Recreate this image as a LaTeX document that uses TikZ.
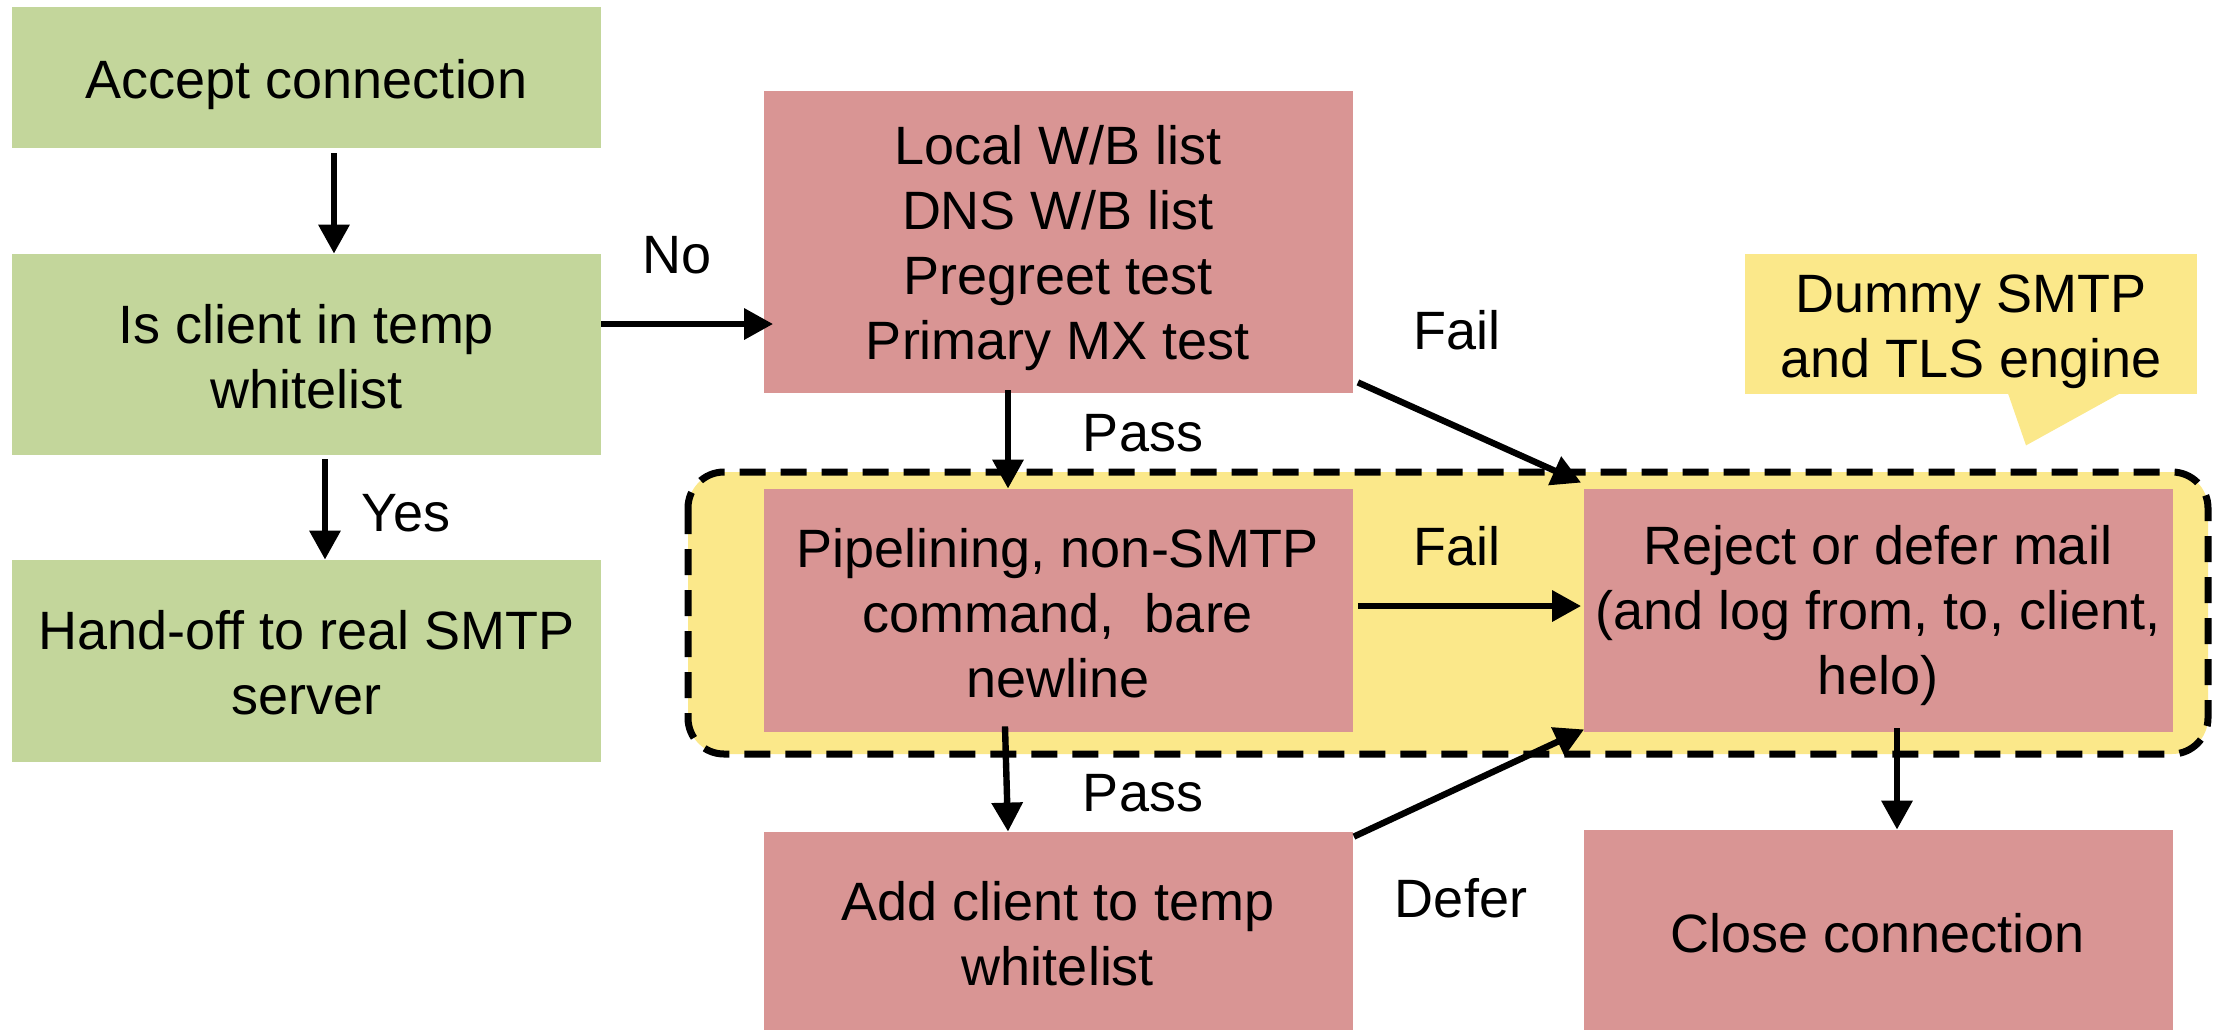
\documentclass[tikz,border=0pt]{standalone}
\usepackage{fontspec}
\setmainfont{Liberation Sans}
\usetikzlibrary{arrows.meta}
\definecolor{boxgreen}{HTML}{C3D69B}
\definecolor{boxred}{HTML}{D99594}
\definecolor{noteyellow}{HTML}{FBE88A}
\begin{document}
\begin{tikzpicture}[x=0.5pt,y=-0.5pt,
  txt/.style={font=\fontsize{27}{32.5}\selectfont, align=center},
  box/.style={rectangle, inner sep=0pt, minimum width=294.5pt},
  gbox/.style={box, fill=boxgreen},
  rbox/.style={box, fill=boxred},
  lbl/.style={txt, inner sep=0pt},
  arr/.style={line width=3.2pt, -{Triangle[width=15pt,length=14.5pt]}},
  grp/.style={fill=noteyellow, draw=black, line width=3.5pt, dash pattern=on 13pt off 7.5pt, rounded corners=18pt}
]
\useasboundingbox (0,0) rectangle (2218,1030);

% dashed group
\draw[grp] (688,472) rectangle (2208,754);

% callout
\node[fill=noteyellow, inner sep=0pt, minimum width=226pt, minimum height=70pt] (note) at (1971,324) {};
\fill[noteyellow] ([xshift=-0.5pt]note.south) ++(38,-1) -- ++(18,52) -- ++(94,-52) -- cycle;
\node[lbl] (noteT) at ([yshift=-4pt]note.center) {Dummy SMTP\\and TLS engine};

% green boxes
\node[gbox, minimum height=70.5pt] (accept) at (306.5,77.5) {};
\node[gbox, minimum height=100.5pt] (isclient) at (306.5,354.5) {};
\node[gbox, minimum height=101pt] (handoff) at (306.5,661) {};
\node[lbl] (acceptT) at ([yshift=-3.5pt]accept.center) {Accept connection};
\node[lbl] (isclientT) at ([yshift=-1pt]isclient.center) {Is client in temp\\whitelist};
\node[lbl] (handoffT) at ([yshift=-1pt]handoff.center) {Hand-off to real SMTP\\server};

% red boxes
\node[rbox, minimum height=151pt] (checks) at (1058,242) {};
\node[rbox, minimum height=121.5pt] (pipe) at (1058,610.5) {};
\node[rbox, minimum height=121.5pt] (reject) at (1878,610.5) {};
\node[rbox, minimum height=99pt] (addcl) at (1058,931) {};
\node[rbox, minimum height=100pt] (close) at (1878,930) {};
\node[lbl] (checksT) at ([yshift=-3pt]checks.center) {Local W/B list\\DNS W/B list\\Pregreet test\\Primary MX test};
\node[lbl] (pipeT) at ([yshift=-1.5pt]pipe.center) {Pipelining, non-SMTP\\command,\ \ bare\\newline};
\node[lbl] (rejectT) at ([yshift=-2.5pt]reject.center) {Reject or defer mail\\(and log from, to, client,\\helo)};
\node[lbl] (addclT) at ([yshift=-1.5pt]addcl.center) {Add client to temp\\whitelist};
\node[lbl] (closeT) at ([yshift=-1.5pt]close.center) {Close connection};

% connectors
\draw[arr] ([shift={(27.5,5)}]accept.south) -- ([xshift=13.75pt]isclient.north);
\draw[arr] ([shift={(18.5,4)}]isclient.south) -- ([xshift=9.25pt]handoff.north);
\draw[arr] ([yshift=15.25pt]isclient.east) -- ([shift={(10,82)}]checks.west);
\draw[arr] ([shift={(-50,-3)}]checks.south) -- ([xshift=-25pt]pipe.north);
\draw[arr] ([shift={(5,-11)}]checks.south east) -- ([shift={(-2,-6)}]reject.north west);
\draw[arr] ([shift={(5,-4.5)}]pipe.east) -- ([shift={(-2,-4.5)}]reject.west);
\draw[arr] ([shift={(-53,-6)}]pipe.south) -- ([xshift=-25pt]addcl.north);
\draw[arr] ([shift={(1,5)}]addcl.north east) -- ([shift={(1,-3)}]reject.south west);
\draw[arr] ([shift={(19,-4)}]reject.south) -- ([xshift=9.5pt]close.north);

% labels
\node[lbl] (lno) at (677,255) {No};
\node[lbl] (lyes) at (406,513) {Yes};
\node[lbl] (lpass1) at (1143,433) {Pass};
\node[lbl] (lfail1) at (1457,330) {Fail};
\node[lbl] (lfail2) at (1457,546) {Fail};
\node[lbl] (lpass2) at (1143,793) {Pass};
\node[lbl] (ldefer) at (1461,898) {Defer};
\end{tikzpicture}
\end{document}
